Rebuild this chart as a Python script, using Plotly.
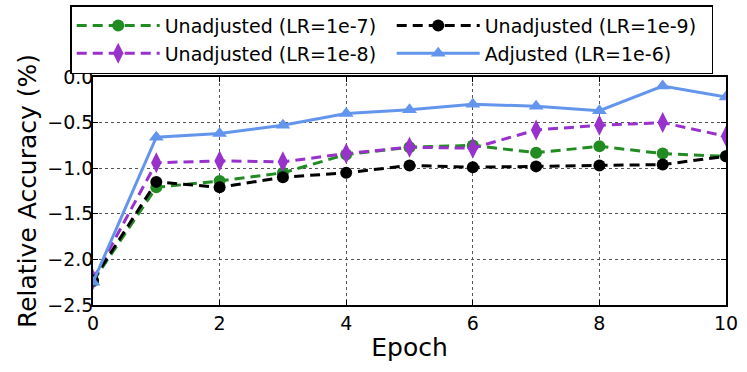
import plotly.graph_objects as go

# --- DATOS ---
EPOCHS = [0, 1, 2, 3, 4, 5, 6, 7, 8, 9, 10]

UNADJ_1E7 = [-2.24, -1.21, -1.14, -1.05, -0.85, -0.77, -0.75, -0.83, -0.76, -0.84, -0.87]
UNADJ_1E8 = [-2.22, -0.94, -0.92, -0.93, -0.84, -0.77, -0.78, -0.58, -0.53, -0.50, -0.65]
UNADJ_1E9 = [-2.23, -1.15, -1.21, -1.10, -1.05, -0.97, -0.99, -0.98, -0.97, -0.96, -0.87]
ADJ_1E6 = [-2.25, -0.66, -0.62, -0.53, -0.40, -0.36, -0.30, -0.32, -0.37, -0.10, -0.22]

Y_TICKS = [0.0, -0.5, -1.0, -1.5, -2.0, -2.5]
X_TICKS = [0, 2, 4, 6, 8, 10]

FONT = "DejaVu Sans"

# (nombre, datos, color, simbolo, tamaño, dash, rank leyenda)
SERIES = [
    ("Unadjusted (LR=1e-7)", UNADJ_1E7, "#228B22", "circle", 12, "10px,6px", 1),
    ("Unadjusted (LR=1e-8)", UNADJ_1E8, "#9932CC", "diamond-tall", 15, "10px,6px", 3),
    ("Unadjusted (LR=1e-9)", UNADJ_1E9, "black", "circle", 12, "10px,6px", 2),
    ("Adjusted (LR=1e-6)", ADJ_1E6, "#6495ED", "triangle-up", 13, "solid", 4),
]

fig = go.Figure()
for name, vals, color, sym, size, dash, rank in SERIES:
    fig.add_trace(go.Scatter(
        x=EPOCHS, y=vals, mode="lines+markers", name=name, legendrank=rank,
        line=dict(color=color, width=3, dash=dash),
        marker=dict(symbol=sym, size=size, color=color),
    ))

axis_common = dict(
    showline=True, linecolor="black", linewidth=1.5, mirror="allticks",
    ticks="inside", ticklen=5, tickcolor="black",
    showgrid=True, gridcolor="#555555", griddash="dot", gridwidth=1,
    zeroline=False, tickfont=dict(family=FONT, size=19, color="black"),
)

fig.update_xaxes(range=[0, 10], tickvals=X_TICKS,
                 title=dict(text="Epoch", font=dict(family=FONT, size=25, color="black"), standoff=6),
                 **axis_common)
fig.update_yaxes(range=[-2.5, 0], tickvals=Y_TICKS, tickformat=".1f", ticklabelstandoff=-6,
                 title=dict(text="Relative Accuracy (%)", font=dict(family=FONT, size=25, color="black"), standoff=4),
                 **axis_common)

fig.update_layout(
    width=747, height=372,
    margin=dict(l=93, r=21, t=77, b=67, autoexpand=False),
    plot_bgcolor="white", paper_bgcolor="white",
    font=dict(family=FONT, color="black"),
    legend=dict(
        orientation="h",
        x=-0.036, y=1.315, xanchor="left", yanchor="top",
        entrywidth=222, entrywidthmode="pixels", itemwidth=83,
        bordercolor="black", borderwidth=1.5, bgcolor="white",
        font=dict(family=FONT, size=19, color="black"),
        traceorder="normal",
    ),
)

# quitar el margen del body para que la figura empiece en (0,0)
fig.write_html("out.html", config={"displayModeBar": False},
               post_script="document.body.style.margin='0';")
